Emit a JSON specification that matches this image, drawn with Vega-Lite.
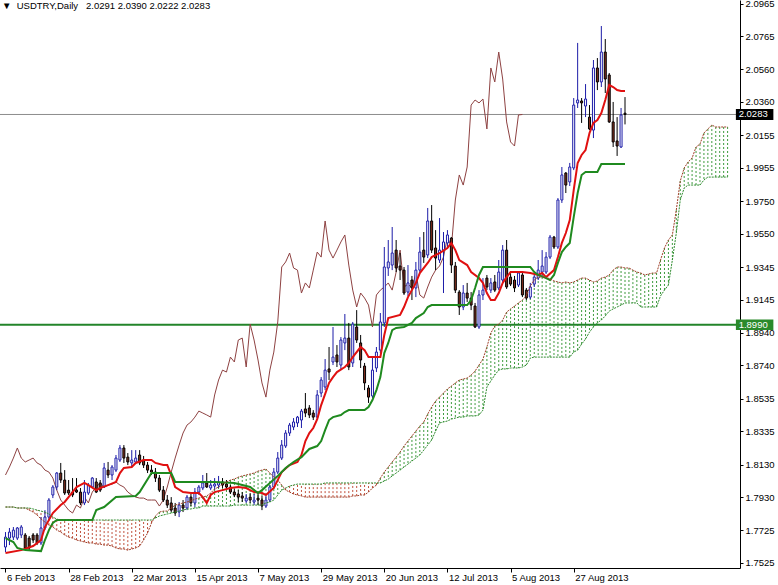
{
  "$schema": "https://vega.github.io/schema/vega-lite/v6.json",
  "width": 740,
  "height": 568,
  "autosize": "none",
  "padding": {"left": 0, "top": 0, "right": 38, "bottom": 17},
  "background": "white",
  "config": {
    "view": {"stroke": null},
    "axis": {"labelFont": "Liberation Sans", "labelFontSize": 9.5, "labelColor": "black", "domainColor": "black", "tickColor": "black", "grid": false, "labelOverlap": false, "labelFlush": false, "labelBound": false}
  },
  "title": {"text": "▼\u00a0\u00a0USDTRY,Daily\u00a0\u00a0\u00a02.0291 2.0390 2.0222 2.0283", "anchor": "start", "frame": "group", "orient": "top", "offset": -20, "baseline": "alphabetic", "dx": 2, "font": "Liberation Sans", "fontSize": 9.5, "fontWeight": "normal", "color": "black"},
  "datasets": {
    "candles": [
      {"i":0,"o":1.7623,"h":1.7715,"l":1.7592,"c":1.7684},
      {"i":1,"o":1.7678,"h":1.7740,"l":1.7635,"c":1.7715},
      {"i":2,"o":1.7684,"h":1.7746,"l":1.7666,"c":1.7727},
      {"i":3,"o":1.7678,"h":1.7746,"l":1.7666,"c":1.7740},
      {"i":4,"o":1.7697,"h":1.7758,"l":1.7678,"c":1.7746},
      {"i":5,"o":1.7697,"h":1.7709,"l":1.7604,"c":1.7617},
      {"i":6,"o":1.7678,"h":1.7691,"l":1.7604,"c":1.7617},
      {"i":7,"o":1.7697,"h":1.7709,"l":1.7648,"c":1.7666},
      {"i":8,"o":1.7697,"h":1.7709,"l":1.7635,"c":1.7648},
      {"i":9,"o":1.7648,"h":1.7807,"l":1.7635,"c":1.7740},
      {"i":10,"o":1.7740,"h":1.7850,"l":1.7727,"c":1.7807},
      {"i":11,"o":1.7807,"h":1.7924,"l":1.7789,"c":1.7912},
      {"i":12,"o":1.7943,"h":1.8004,"l":1.7924,"c":1.7992},
      {"i":13,"o":1.7992,"h":1.8084,"l":1.7973,"c":1.8078},
      {"i":14,"o":1.8078,"h":1.8140,"l":1.8017,"c":1.8035},
      {"i":15,"o":1.8035,"h":1.8096,"l":1.7943,"c":1.7955},
      {"i":16,"o":1.7973,"h":1.8035,"l":1.7943,"c":1.7955},
      {"i":17,"o":1.7961,"h":1.8047,"l":1.7930,"c":1.7943},
      {"i":18,"o":1.7973,"h":1.8047,"l":1.7955,"c":1.7961},
      {"i":19,"o":1.7961,"h":1.7986,"l":1.7881,"c":1.7894},
      {"i":20,"o":1.7894,"h":1.8035,"l":1.7881,"c":1.7961},
      {"i":21,"o":1.7955,"h":1.8017,"l":1.7943,"c":1.8004},
      {"i":22,"o":1.7992,"h":1.8053,"l":1.7986,"c":1.8047},
      {"i":23,"o":1.8023,"h":1.8047,"l":1.7955,"c":1.7961},
      {"i":24,"o":1.8017,"h":1.8035,"l":1.7961,"c":1.7973},
      {"i":25,"o":1.7992,"h":1.8140,"l":1.7986,"c":1.8109},
      {"i":26,"o":1.8096,"h":1.8146,"l":1.8047,"c":1.8066},
      {"i":27,"o":1.8066,"h":1.8127,"l":1.8035,"c":1.8115},
      {"i":28,"o":1.8096,"h":1.8189,"l":1.8084,"c":1.8170},
      {"i":29,"o":1.8158,"h":1.8250,"l":1.8146,"c":1.8232},
      {"i":30,"o":1.8232,"h":1.8250,"l":1.8140,"c":1.8170},
      {"i":31,"o":1.8176,"h":1.8201,"l":1.8127,"c":1.8146},
      {"i":32,"o":1.8140,"h":1.8219,"l":1.8115,"c":1.8158},
      {"i":33,"o":1.8146,"h":1.8219,"l":1.8140,"c":1.8170},
      {"i":34,"o":1.8189,"h":1.8219,"l":1.8127,"c":1.8140},
      {"i":35,"o":1.8158,"h":1.8183,"l":1.8109,"c":1.8127},
      {"i":36,"o":1.8127,"h":1.8146,"l":1.8078,"c":1.8096},
      {"i":37,"o":1.8096,"h":1.8127,"l":1.8066,"c":1.8084},
      {"i":38,"o":1.8084,"h":1.8109,"l":1.8023,"c":1.8047},
      {"i":39,"o":1.8047,"h":1.8066,"l":1.7961,"c":1.7973},
      {"i":40,"o":1.7973,"h":1.7998,"l":1.7900,"c":1.7912},
      {"i":41,"o":1.7912,"h":1.7943,"l":1.7863,"c":1.7881},
      {"i":42,"o":1.7894,"h":1.7930,"l":1.7838,"c":1.7850},
      {"i":43,"o":1.7863,"h":1.7894,"l":1.7814,"c":1.7832},
      {"i":44,"o":1.7838,"h":1.7900,"l":1.7807,"c":1.7881},
      {"i":45,"o":1.7881,"h":1.7912,"l":1.7838,"c":1.7863},
      {"i":46,"o":1.7863,"h":1.7943,"l":1.7850,"c":1.7930},
      {"i":47,"o":1.7930,"h":1.7949,"l":1.7875,"c":1.7894},
      {"i":48,"o":1.7894,"h":1.7986,"l":1.7869,"c":1.7961},
      {"i":49,"o":1.7961,"h":1.8004,"l":1.7943,"c":1.7992},
      {"i":50,"o":1.7986,"h":1.8066,"l":1.7973,"c":1.8017},
      {"i":51,"o":1.8017,"h":1.8078,"l":1.7986,"c":1.7992},
      {"i":52,"o":1.7986,"h":1.8035,"l":1.7973,"c":1.8004},
      {"i":53,"o":1.7998,"h":1.8047,"l":1.7973,"c":1.8010},
      {"i":54,"o":1.8004,"h":1.8060,"l":1.7986,"c":1.8023},
      {"i":55,"o":1.8023,"h":1.8047,"l":1.7986,"c":1.8004},
      {"i":56,"o":1.8010,"h":1.8035,"l":1.7973,"c":1.7992},
      {"i":57,"o":1.7992,"h":1.8004,"l":1.7949,"c":1.7961},
      {"i":58,"o":1.7961,"h":1.7980,"l":1.7930,"c":1.7943},
      {"i":59,"o":1.7949,"h":1.7973,"l":1.7900,"c":1.7930},
      {"i":60,"o":1.7937,"h":1.7961,"l":1.7900,"c":1.7924},
      {"i":61,"o":1.7906,"h":1.7949,"l":1.7894,"c":1.7924},
      {"i":62,"o":1.7930,"h":1.7955,"l":1.7894,"c":1.7912},
      {"i":63,"o":1.7900,"h":1.7949,"l":1.7881,"c":1.7912},
      {"i":64,"o":1.7924,"h":1.7961,"l":1.7881,"c":1.7912},
      {"i":65,"o":1.7912,"h":1.7937,"l":1.7850,"c":1.7875},
      {"i":66,"o":1.7875,"h":1.7937,"l":1.7863,"c":1.7912},
      {"i":67,"o":1.7912,"h":1.8004,"l":1.7900,"c":1.7992},
      {"i":68,"o":1.7992,"h":1.8109,"l":1.7980,"c":1.8084},
      {"i":69,"o":1.8084,"h":1.8207,"l":1.8072,"c":1.8170},
      {"i":70,"o":1.8170,"h":1.8281,"l":1.8158,"c":1.8250},
      {"i":71,"o":1.8244,"h":1.8342,"l":1.8232,"c":1.8324},
      {"i":72,"o":1.8324,"h":1.8386,"l":1.8306,"c":1.8373},
      {"i":73,"o":1.8361,"h":1.8416,"l":1.8342,"c":1.8392},
      {"i":74,"o":1.8386,"h":1.8429,"l":1.8361,"c":1.8422},
      {"i":75,"o":1.8404,"h":1.8472,"l":1.8355,"c":1.8459},
      {"i":76,"o":1.8472,"h":1.8570,"l":1.8422,"c":1.8447},
      {"i":77,"o":1.8478,"h":1.8496,"l":1.8416,"c":1.8435},
      {"i":78,"o":1.8447,"h":1.8465,"l":1.8404,"c":1.8422},
      {"i":79,"o":1.8422,"h":1.8588,"l":1.8404,"c":1.8558},
      {"i":80,"o":1.8570,"h":1.8668,"l":1.8545,"c":1.8650},
      {"i":81,"o":1.8607,"h":1.8779,"l":1.8588,"c":1.8711},
      {"i":82,"o":1.8718,"h":1.8853,"l":1.8650,"c":1.8699},
      {"i":83,"o":1.8761,"h":1.8976,"l":1.8742,"c":1.8791},
      {"i":84,"o":1.8804,"h":1.8865,"l":1.8730,"c":1.8761},
      {"i":85,"o":1.8742,"h":1.8914,"l":1.8711,"c":1.8896},
      {"i":86,"o":1.8878,"h":1.9056,"l":1.8834,"c":1.8908},
      {"i":87,"o":1.8908,"h":1.9001,"l":1.8711,"c":1.8730},
      {"i":88,"o":1.8755,"h":1.9007,"l":1.8730,"c":1.8994},
      {"i":89,"o":1.8976,"h":1.9080,"l":1.8878,"c":1.8896},
      {"i":90,"o":1.8878,"h":1.8927,"l":1.8724,"c":1.8773},
      {"i":91,"o":1.8736,"h":1.8755,"l":1.8588,"c":1.8632},
      {"i":92,"o":1.8601,"h":1.8619,"l":1.8509,"c":1.8545},
      {"i":93,"o":1.8552,"h":1.8791,"l":1.8539,"c":1.8711},
      {"i":94,"o":1.8724,"h":1.8853,"l":1.8699,"c":1.8822},
      {"i":95,"o":1.8834,"h":1.9062,"l":1.8816,"c":1.9007},
      {"i":96,"o":1.9001,"h":1.9468,"l":1.8976,"c":1.9345},
      {"i":97,"o":1.9339,"h":1.9511,"l":1.9290,"c":1.9376},
      {"i":98,"o":1.9357,"h":1.9591,"l":1.9326,"c":1.9431},
      {"i":99,"o":1.9449,"h":1.9511,"l":1.9314,"c":1.9339},
      {"i":100,"o":1.9351,"h":1.9431,"l":1.9265,"c":1.9326},
      {"i":101,"o":1.9326,"h":1.9345,"l":1.9173,"c":1.9185},
      {"i":102,"o":1.9191,"h":1.9357,"l":1.9167,"c":1.9247},
      {"i":103,"o":1.9265,"h":1.9290,"l":1.9142,"c":1.9216},
      {"i":104,"o":1.9216,"h":1.9376,"l":1.9160,"c":1.9326},
      {"i":105,"o":1.9326,"h":1.9529,"l":1.9308,"c":1.9437},
      {"i":106,"o":1.9449,"h":1.9560,"l":1.9370,"c":1.9406},
      {"i":107,"o":1.9419,"h":1.9708,"l":1.9400,"c":1.9628},
      {"i":108,"o":1.9628,"h":1.9726,"l":1.9431,"c":1.9449},
      {"i":109,"o":1.9462,"h":1.9572,"l":1.9326,"c":1.9400},
      {"i":110,"o":1.9388,"h":1.9646,"l":1.9370,"c":1.9449},
      {"i":111,"o":1.9449,"h":1.9560,"l":1.9185,"c":1.9499},
      {"i":112,"o":1.9493,"h":1.9572,"l":1.9468,"c":1.9542},
      {"i":113,"o":1.9523,"h":1.9529,"l":1.9308,"c":1.9357},
      {"i":114,"o":1.9351,"h":1.9376,"l":1.9185,"c":1.9203},
      {"i":115,"o":1.9191,"h":1.9203,"l":1.9050,"c":1.9099},
      {"i":116,"o":1.9099,"h":1.9234,"l":1.9080,"c":1.9185},
      {"i":117,"o":1.9185,"h":1.9247,"l":1.9130,"c":1.9154},
      {"i":118,"o":1.9154,"h":1.9191,"l":1.9080,"c":1.9111},
      {"i":119,"o":1.9105,"h":1.9124,"l":1.8970,"c":1.8976},
      {"i":120,"o":1.8976,"h":1.9203,"l":1.8964,"c":1.9173},
      {"i":121,"o":1.9173,"h":1.9277,"l":1.9142,"c":1.9203},
      {"i":122,"o":1.9277,"h":1.9296,"l":1.9203,"c":1.9222},
      {"i":123,"o":1.9203,"h":1.9277,"l":1.9185,"c":1.9247},
      {"i":124,"o":1.9253,"h":1.9296,"l":1.9191,"c":1.9203},
      {"i":125,"o":1.9216,"h":1.9388,"l":1.9203,"c":1.9314},
      {"i":126,"o":1.9265,"h":1.9480,"l":1.9247,"c":1.9449},
      {"i":127,"o":1.9449,"h":1.9511,"l":1.9210,"c":1.9222},
      {"i":128,"o":1.9283,"h":1.9308,"l":1.9228,"c":1.9240},
      {"i":129,"o":1.9265,"h":1.9290,"l":1.9191,"c":1.9216},
      {"i":130,"o":1.9234,"h":1.9314,"l":1.9222,"c":1.9308},
      {"i":131,"o":1.9296,"h":1.9308,"l":1.9160,"c":1.9173},
      {"i":132,"o":1.9203,"h":1.9216,"l":1.9142,"c":1.9154},
      {"i":133,"o":1.9160,"h":1.9247,"l":1.9148,"c":1.9222},
      {"i":134,"o":1.9240,"h":1.9296,"l":1.9222,"c":1.9283},
      {"i":135,"o":1.9277,"h":1.9388,"l":1.9265,"c":1.9326},
      {"i":136,"o":1.9314,"h":1.9449,"l":1.9283,"c":1.9351},
      {"i":137,"o":1.9314,"h":1.9437,"l":1.9302,"c":1.9406},
      {"i":138,"o":1.9406,"h":1.9542,"l":1.9394,"c":1.9529},
      {"i":139,"o":1.9529,"h":1.9536,"l":1.9456,"c":1.9468},
      {"i":140,"o":1.9468,"h":1.9769,"l":1.9456,"c":1.9757},
      {"i":141,"o":1.9757,"h":1.9960,"l":1.9739,"c":1.9911},
      {"i":142,"o":1.9923,"h":1.9929,"l":1.9800,"c":1.9849},
      {"i":143,"o":1.9868,"h":1.9985,"l":1.9843,"c":1.9960},
      {"i":144,"o":1.9954,"h":2.0384,"l":1.9941,"c":2.0341},
      {"i":145,"o":2.0354,"h":2.0723,"l":2.0323,"c":2.0372},
      {"i":146,"o":2.0366,"h":2.0384,"l":2.0231,"c":2.0354},
      {"i":147,"o":2.0335,"h":2.0470,"l":2.0267,"c":2.0378},
      {"i":148,"o":2.0267,"h":2.0341,"l":2.0187,"c":2.0194},
      {"i":149,"o":2.0187,"h":2.0618,"l":2.0138,"c":2.0569},
      {"i":150,"o":2.0569,"h":2.0630,"l":2.0433,"c":2.0483},
      {"i":151,"o":2.0483,"h":2.0827,"l":2.0452,"c":2.0667},
      {"i":152,"o":2.0667,"h":2.0747,"l":2.0415,"c":2.0501},
      {"i":153,"o":2.0526,"h":2.0538,"l":2.0231,"c":2.0237},
      {"i":154,"o":2.0237,"h":2.0360,"l":2.0083,"c":2.0114},
      {"i":155,"o":2.0120,"h":2.0267,"l":2.0028,"c":2.0089},
      {"i":156,"o":2.0083,"h":2.0323,"l":2.0077,"c":2.0280},
      {"i":157,"o":2.0291,"h":2.0390,"l":2.0222,"c":2.0283}
    ],
    "tenkan": [
      {"i":0,"v":1.7586},{"i":4,"v":1.7604},{"i":7,"v":1.7629},{"i":9,"v":1.7666},{"i":10,"v":1.7746},
      {"i":12,"v":1.7832},{"i":14,"v":1.7881},{"i":15,"v":1.7900},{"i":17,"v":1.7961},{"i":18,"v":1.7992},
      {"i":20,"v":1.8017},{"i":21,"v":1.8004},{"i":23,"v":1.7973},{"i":24,"v":1.7986},{"i":26,"v":1.8004},
      {"i":28,"v":1.8023},{"i":29,"v":1.8078},{"i":30,"v":1.8109},{"i":32,"v":1.8115},{"i":33,"v":1.8140},
      {"i":35,"v":1.8158},{"i":37,"v":1.8158},{"i":38,"v":1.8140},{"i":40,"v":1.8127},{"i":41,"v":1.8127},
      {"i":42,"v":1.8066},{"i":43,"v":1.7992},{"i":45,"v":1.7961},{"i":47,"v":1.7955},{"i":49,"v":1.7955},
      {"i":50,"v":1.7930},{"i":51,"v":1.7894},{"i":52,"v":1.7943},{"i":53,"v":1.7961},{"i":55,"v":1.7973},
      {"i":57,"v":1.7986},{"i":59,"v":1.7992},{"i":61,"v":1.7986},{"i":62,"v":1.7973},{"i":63,"v":1.7961},
      {"i":65,"v":1.7955},{"i":66,"v":1.7943},{"i":68,"v":1.7986},{"i":70,"v":1.8084},{"i":72,"v":1.8127},
      {"i":74,"v":1.8146},{"i":75,"v":1.8189},{"i":76,"v":1.8275},{"i":77,"v":1.8324},{"i":78,"v":1.8355},
      {"i":79,"v":1.8410},{"i":80,"v":1.8496},{"i":82,"v":1.8632},{"i":83,"v":1.8668},{"i":84,"v":1.8699},
      {"i":86,"v":1.8730},{"i":87,"v":1.8755},{"i":88,"v":1.8791},{"i":90,"v":1.8853},{"i":91,"v":1.8834},
      {"i":92,"v":1.8791},{"i":95,"v":1.8791},{"i":96,"v":1.8927},{"i":97,"v":1.9031},{"i":100,"v":1.9050},
      {"i":101,"v":1.9099},{"i":102,"v":1.9160},{"i":104,"v":1.9247},{"i":105,"v":1.9308},{"i":107,"v":1.9370},
      {"i":108,"v":1.9406},{"i":110,"v":1.9431},{"i":112,"v":1.9462},{"i":113,"v":1.9493},{"i":114,"v":1.9449},
      {"i":115,"v":1.9388},{"i":117,"v":1.9357},{"i":118,"v":1.9314},{"i":120,"v":1.9277},{"i":121,"v":1.9247},
      {"i":122,"v":1.9185},{"i":123,"v":1.9142},{"i":124,"v":1.9142},{"i":125,"v":1.9185},{"i":126,"v":1.9247},
      {"i":127,"v":1.9283},{"i":128,"v":1.9314},{"i":131,"v":1.9314},{"i":133,"v":1.9308},{"i":135,"v":1.9296},
      {"i":136,"v":1.9308},{"i":137,"v":1.9283},{"i":139,"v":1.9326},{"i":140,"v":1.9406},{"i":141,"v":1.9493},
      {"i":142,"v":1.9554},{"i":143,"v":1.9634},{"i":144,"v":1.9818},{"i":145,"v":1.9985},{"i":146,"v":2.0034},
      {"i":147,"v":2.0064},{"i":148,"v":2.0169},{"i":149,"v":2.0231},{"i":150,"v":2.0249},{"i":151,"v":2.0292},
      {"i":152,"v":2.0372},{"i":153,"v":2.0464},{"i":154,"v":2.0452},{"i":155,"v":2.0433},{"i":156,"v":2.0427},
      {"i":157,"v":2.0427}
    ],
    "kijun": [
      {"i":0,"v":1.7678},{"i":2,"v":1.7654},{"i":3,"v":1.7617},{"i":5,"v":1.7604},{"i":9,"v":1.7598},
      {"i":10,"v":1.7666},{"i":11,"v":1.7727},{"i":12,"v":1.7771},{"i":13,"v":1.7789},{"i":22,"v":1.7789},
      {"i":23,"v":1.7850},{"i":25,"v":1.7869},{"i":28,"v":1.7930},{"i":33,"v":1.7937},{"i":34,"v":1.7961},
      {"i":37,"v":1.8078},{"i":42,"v":1.8078},{"i":43,"v":1.8023},{"i":53,"v":1.8023},{"i":58,"v":1.8017},
      {"i":62,"v":1.7992},{"i":64,"v":1.7955},{"i":65,"v":1.7973},{"i":67,"v":1.8017},{"i":69,"v":1.8060},
      {"i":71,"v":1.8109},{"i":73,"v":1.8146},{"i":75,"v":1.8176},{"i":77,"v":1.8226},{"i":79,"v":1.8244},
      {"i":80,"v":1.8275},{"i":81,"v":1.8342},{"i":82,"v":1.8404},{"i":83,"v":1.8422},{"i":85,"v":1.8435},
      {"i":86,"v":1.8453},{"i":87,"v":1.8465},{"i":91,"v":1.8465},{"i":92,"v":1.8484},{"i":93,"v":1.8527},
      {"i":94,"v":1.8588},{"i":95,"v":1.8668},{"i":96,"v":1.8816},{"i":97,"v":1.8878},{"i":98,"v":1.8957},
      {"i":99,"v":1.8970},{"i":101,"v":1.8976},{"i":103,"v":1.9001},{"i":104,"v":1.9031},{"i":106,"v":1.9062},
      {"i":107,"v":1.9099},{"i":108,"v":1.9111},{"i":117,"v":1.9111},{"i":118,"v":1.9142},{"i":119,"v":1.9216},
      {"i":120,"v":1.9296},{"i":121,"v":1.9345},{"i":133,"v":1.9345},{"i":134,"v":1.9314},{"i":135,"v":1.9296},
      {"i":137,"v":1.9277},{"i":138,"v":1.9265},{"i":139,"v":1.9296},{"i":140,"v":1.9370},{"i":141,"v":1.9437},
      {"i":142,"v":1.9468},{"i":143,"v":1.9493},{"i":144,"v":1.9652},{"i":145,"v":1.9800},{"i":146,"v":1.9911},
      {"i":147,"v":1.9929},{"i":150,"v":1.9929},{"i":151,"v":1.9978},{"i":157,"v":1.9978}
    ],
    "chikou": [
      {"i":0,"v":1.8066},{"i":1,"v":1.8115},{"i":2,"v":1.8170},{"i":3,"v":1.8232},{"i":4,"v":1.8170},
      {"i":5,"v":1.8146},{"i":6,"v":1.8158},{"i":7,"v":1.8170},{"i":8,"v":1.8140},{"i":9,"v":1.8127},
      {"i":10,"v":1.8096},{"i":11,"v":1.8084},{"i":12,"v":1.8047},{"i":13,"v":1.7973},{"i":14,"v":1.7912},
      {"i":15,"v":1.7881},{"i":16,"v":1.7850},{"i":17,"v":1.7832},{"i":18,"v":1.7881},{"i":19,"v":1.7863},
      {"i":20,"v":1.7930},{"i":21,"v":1.7894},{"i":22,"v":1.7961},{"i":23,"v":1.7992},{"i":24,"v":1.8017},
      {"i":25,"v":1.7992},{"i":26,"v":1.8004},{"i":27,"v":1.8010},{"i":28,"v":1.8023},{"i":29,"v":1.8004},
      {"i":30,"v":1.7992},{"i":31,"v":1.7961},{"i":32,"v":1.7943},{"i":33,"v":1.7930},{"i":34,"v":1.7924},
      {"i":35,"v":1.7924},{"i":36,"v":1.7912},{"i":37,"v":1.7912},{"i":38,"v":1.7912},{"i":39,"v":1.7875},
      {"i":40,"v":1.7912},{"i":41,"v":1.7992},{"i":42,"v":1.8084},{"i":43,"v":1.8170},{"i":44,"v":1.8250},
      {"i":45,"v":1.8324},{"i":46,"v":1.8373},{"i":47,"v":1.8392},{"i":48,"v":1.8422},{"i":49,"v":1.8459},
      {"i":50,"v":1.8447},{"i":51,"v":1.8435},{"i":52,"v":1.8422},{"i":53,"v":1.8558},{"i":54,"v":1.8650},
      {"i":55,"v":1.8711},{"i":56,"v":1.8699},{"i":57,"v":1.8791},{"i":58,"v":1.8761},{"i":59,"v":1.8896},
      {"i":60,"v":1.8908},{"i":61,"v":1.8730},{"i":62,"v":1.8994},{"i":63,"v":1.8896},{"i":64,"v":1.8773},
      {"i":65,"v":1.8632},{"i":66,"v":1.8545},{"i":67,"v":1.8711},{"i":68,"v":1.8822},{"i":69,"v":1.9007},
      {"i":70,"v":1.9345},{"i":71,"v":1.9376},{"i":72,"v":1.9431},{"i":73,"v":1.9339},{"i":74,"v":1.9326},
      {"i":75,"v":1.9185},{"i":76,"v":1.9247},{"i":77,"v":1.9216},{"i":78,"v":1.9326},{"i":79,"v":1.9437},
      {"i":80,"v":1.9406},{"i":81,"v":1.9628},{"i":82,"v":1.9449},{"i":83,"v":1.9400},{"i":84,"v":1.9449},
      {"i":85,"v":1.9499},{"i":86,"v":1.9542},{"i":87,"v":1.9357},{"i":88,"v":1.9203},{"i":89,"v":1.9099},
      {"i":90,"v":1.9185},{"i":91,"v":1.9154},{"i":92,"v":1.9111},{"i":93,"v":1.8976},{"i":94,"v":1.9173},
      {"i":95,"v":1.9203},{"i":96,"v":1.9222},{"i":97,"v":1.9247},{"i":98,"v":1.9203},{"i":99,"v":1.9314},
      {"i":100,"v":1.9449},{"i":101,"v":1.9222},{"i":102,"v":1.9240},{"i":103,"v":1.9216},{"i":104,"v":1.9308},
      {"i":105,"v":1.9173},{"i":106,"v":1.9154},{"i":107,"v":1.9222},{"i":108,"v":1.9283},{"i":109,"v":1.9326},
      {"i":110,"v":1.9351},{"i":111,"v":1.9406},{"i":112,"v":1.9529},{"i":113,"v":1.9468},{"i":114,"v":1.9757},
      {"i":115,"v":1.9911},{"i":116,"v":1.9849},{"i":117,"v":1.9960},{"i":118,"v":2.0341},{"i":119,"v":2.0372},
      {"i":120,"v":2.0354},{"i":121,"v":2.0378},{"i":122,"v":2.0194},{"i":123,"v":2.0569},{"i":124,"v":2.0483},
      {"i":125,"v":2.0667},{"i":126,"v":2.0501},{"i":127,"v":2.0237},{"i":128,"v":2.0114},{"i":129,"v":2.0089},
      {"i":130,"v":2.0280},{"i":131,"v":2.0283}
    ],
    "cloud": [
      {"i":0,"a":1.7869,"b":1.7869},{"i":1,"a":1.7869,"b":1.7869},{"i":2,"a":1.7869,"b":1.7869},{"i":3,"a":1.7863,"b":1.7863},
      {"i":4,"a":1.7863,"b":1.7863},{"i":5,"a":1.7863,"b":1.7863},{"i":6,"a":1.7850,"b":1.7863},{"i":7,"a":1.7838,"b":1.7857},
      {"i":8,"a":1.7820,"b":1.7850},{"i":9,"a":1.7795,"b":1.7844},{"i":10,"a":1.7777,"b":1.7838},{"i":11,"a":1.7758,"b":1.7826},
      {"i":12,"a":1.7746,"b":1.7807},{"i":13,"a":1.7727,"b":1.7795},{"i":14,"a":1.7715,"b":1.7789},{"i":15,"a":1.7697,"b":1.7789},
      {"i":16,"a":1.7684,"b":1.7789},{"i":17,"a":1.7678,"b":1.7789},{"i":18,"a":1.7666,"b":1.7789},{"i":19,"a":1.7660,"b":1.7789},
      {"i":20,"a":1.7654,"b":1.7789},{"i":21,"a":1.7648,"b":1.7789},{"i":22,"a":1.7648,"b":1.7789},{"i":23,"a":1.7641,"b":1.7789},
      {"i":24,"a":1.7641,"b":1.7789},{"i":25,"a":1.7635,"b":1.7789},{"i":26,"a":1.7635,"b":1.7789},{"i":27,"a":1.7629,"b":1.7789},
      {"i":28,"a":1.7617,"b":1.7789},{"i":29,"a":1.7611,"b":1.7789},{"i":30,"a":1.7611,"b":1.7789},{"i":31,"a":1.7604,"b":1.7789},
      {"i":32,"a":1.7611,"b":1.7789},{"i":33,"a":1.7617,"b":1.7789},{"i":34,"a":1.7629,"b":1.7789},{"i":35,"a":1.7666,"b":1.7789},
      {"i":36,"a":1.7709,"b":1.7789},{"i":37,"a":1.7771,"b":1.7789},{"i":38,"a":1.7814,"b":1.7801},{"i":39,"a":1.7838,"b":1.7814},
      {"i":40,"a":1.7844,"b":1.7820},{"i":41,"a":1.7844,"b":1.7826},{"i":42,"a":1.7863,"b":1.7832},{"i":43,"a":1.7881,"b":1.7838},
      {"i":44,"a":1.7887,"b":1.7844},{"i":45,"a":1.7894,"b":1.7850},{"i":46,"a":1.7900,"b":1.7857},{"i":47,"a":1.7906,"b":1.7857},
      {"i":48,"a":1.7918,"b":1.7863},{"i":49,"a":1.7924,"b":1.7863},{"i":50,"a":1.7930,"b":1.7875},{"i":51,"a":1.7937,"b":1.7875},
      {"i":52,"a":1.7955,"b":1.7875},{"i":53,"a":1.7980,"b":1.7875},{"i":54,"a":1.7992,"b":1.7875},{"i":55,"a":1.8010,"b":1.7875},
      {"i":56,"a":1.8023,"b":1.7875},{"i":57,"a":1.8035,"b":1.7875},{"i":58,"a":1.8041,"b":1.7881},{"i":59,"a":1.8053,"b":1.7881},
      {"i":60,"a":1.8060,"b":1.7881},{"i":61,"a":1.8066,"b":1.7881},{"i":62,"a":1.8072,"b":1.7881},{"i":63,"a":1.8078,"b":1.7881},
      {"i":64,"a":1.8090,"b":1.7881},{"i":65,"a":1.8096,"b":1.7881},{"i":66,"a":1.8103,"b":1.7894},{"i":67,"a":1.8078,"b":1.7900},
      {"i":68,"a":1.8053,"b":1.7912},{"i":69,"a":1.8035,"b":1.7943},{"i":70,"a":1.8004,"b":1.7973},{"i":71,"a":1.7973,"b":1.7986},
      {"i":72,"a":1.7961,"b":1.7998},{"i":73,"a":1.7949,"b":1.8004},{"i":74,"a":1.7943,"b":1.8010},{"i":75,"a":1.7937,"b":1.8010},
      {"i":76,"a":1.7930,"b":1.8010},{"i":77,"a":1.7930,"b":1.8010},{"i":78,"a":1.7930,"b":1.8010},{"i":79,"a":1.7930,"b":1.8010},
      {"i":80,"a":1.7930,"b":1.8010},{"i":81,"a":1.7930,"b":1.8017},{"i":82,"a":1.7930,"b":1.8017},{"i":83,"a":1.7930,"b":1.8017},
      {"i":84,"a":1.7930,"b":1.8017},{"i":85,"a":1.7930,"b":1.8017},{"i":86,"a":1.7930,"b":1.8017},{"i":87,"a":1.7930,"b":1.8017},
      {"i":88,"a":1.7937,"b":1.8017},{"i":89,"a":1.7937,"b":1.8017},{"i":90,"a":1.7943,"b":1.8017},{"i":91,"a":1.7943,"b":1.8017},
      {"i":92,"a":1.7961,"b":1.8017},{"i":93,"a":1.7986,"b":1.8017},{"i":94,"a":1.8004,"b":1.8017},{"i":95,"a":1.8047,"b":1.8017},
      {"i":96,"a":1.8084,"b":1.8029},{"i":97,"a":1.8115,"b":1.8041},{"i":98,"a":1.8146,"b":1.8060},{"i":99,"a":1.8176,"b":1.8078},
      {"i":100,"a":1.8207,"b":1.8096},{"i":101,"a":1.8244,"b":1.8115},{"i":102,"a":1.8275,"b":1.8133},{"i":103,"a":1.8306,"b":1.8152},
      {"i":104,"a":1.8336,"b":1.8170},{"i":105,"a":1.8367,"b":1.8189},{"i":106,"a":1.8392,"b":1.8219},{"i":107,"a":1.8441,"b":1.8250},
      {"i":108,"a":1.8484,"b":1.8281},{"i":109,"a":1.8521,"b":1.8336},{"i":110,"a":1.8545,"b":1.8386},{"i":111,"a":1.8570,"b":1.8392},
      {"i":112,"a":1.8595,"b":1.8398},{"i":113,"a":1.8613,"b":1.8410},{"i":114,"a":1.8632,"b":1.8416},{"i":115,"a":1.8650,"b":1.8422},
      {"i":116,"a":1.8656,"b":1.8422},{"i":117,"a":1.8662,"b":1.8429},{"i":118,"a":1.8681,"b":1.8429},{"i":119,"a":1.8705,"b":1.8429},
      {"i":120,"a":1.8742,"b":1.8435},{"i":121,"a":1.8779,"b":1.8465},{"i":122,"a":1.8853,"b":1.8607},{"i":123,"a":1.8939,"b":1.8644},
      {"i":124,"a":1.8982,"b":1.8681},{"i":125,"a":1.8994,"b":1.8711},{"i":126,"a":1.9019,"b":1.8718},{"i":127,"a":1.9068,"b":1.8718},
      {"i":128,"a":1.9087,"b":1.8724},{"i":129,"a":1.9105,"b":1.8724},{"i":130,"a":1.9124,"b":1.8724},{"i":131,"a":1.9142,"b":1.8730},
      {"i":132,"a":1.9167,"b":1.8742},{"i":133,"a":1.9228,"b":1.8785},{"i":134,"a":1.9265,"b":1.8791},{"i":135,"a":1.9283,"b":1.8791},
      {"i":136,"a":1.9283,"b":1.8791},{"i":137,"a":1.9283,"b":1.8791},{"i":138,"a":1.9271,"b":1.8791},{"i":139,"a":1.9259,"b":1.8791},
      {"i":140,"a":1.9253,"b":1.8791},{"i":141,"a":1.9247,"b":1.8791},{"i":142,"a":1.9253,"b":1.8791},{"i":143,"a":1.9247,"b":1.8791},
      {"i":144,"a":1.9253,"b":1.8822},{"i":145,"a":1.9265,"b":1.8834},{"i":146,"a":1.9277,"b":1.8871},{"i":147,"a":1.9277,"b":1.8902},
      {"i":148,"a":1.9265,"b":1.8945},{"i":149,"a":1.9253,"b":1.8976},{"i":150,"a":1.9259,"b":1.9001},{"i":151,"a":1.9277,"b":1.9019},
      {"i":152,"a":1.9283,"b":1.9044},{"i":153,"a":1.9296,"b":1.9074},{"i":154,"a":1.9326,"b":1.9087},{"i":155,"a":1.9345,"b":1.9099},
      {"i":156,"a":1.9345,"b":1.9111},{"i":157,"a":1.9339,"b":1.9124},{"i":158,"a":1.9339,"b":1.9124},{"i":159,"a":1.9326,"b":1.9124},
      {"i":160,"a":1.9314,"b":1.9124},{"i":161,"a":1.9308,"b":1.9099},{"i":162,"a":1.9296,"b":1.9099},{"i":163,"a":1.9302,"b":1.9099},
      {"i":164,"a":1.9308,"b":1.9099},{"i":165,"a":1.9308,"b":1.9099},{"i":166,"a":1.9388,"b":1.9167},{"i":167,"a":1.9462,"b":1.9203},
      {"i":168,"a":1.9511,"b":1.9234},{"i":169,"a":1.9542,"b":1.9388},{"i":170,"a":1.9695,"b":1.9554},{"i":171,"a":1.9874,"b":1.9757},
      {"i":172,"a":1.9954,"b":1.9831},{"i":173,"a":1.9991,"b":1.9849},{"i":174,"a":2.0015,"b":1.9849},{"i":175,"a":2.0083,"b":1.9849},
      {"i":176,"a":2.0101,"b":1.9849},{"i":177,"a":2.0169,"b":1.9880},{"i":178,"a":2.0194,"b":1.9898},{"i":179,"a":2.0218,"b":1.9898},
      {"i":180,"a":2.0206,"b":1.9898},{"i":181,"a":2.0206,"b":1.9898},{"i":182,"a":2.0206,"b":1.9898},{"i":183,"a":2.0206,"b":1.9898}
    ]
  },
  "layer": [
    {
      "data": {"name": "cloud"},
      "mark": {"type": "rule", "strokeWidth": 1, "strokeDash": [2, 2]},
      "encoding": {
        "x": {"field": "i", "type": "quantitative", "title": null,
          "scale": {"domain": [-0.125, 184.875], "nice": false, "zero": false},
          "axis": {"orient": "bottom", "values": [0, 16, 32, 48, 64, 80, 96, 112, 128, 144], "tickCount": 40,
            "labelExpr": "datum.value == 0 ? '6 Feb 2013' : datum.value == 16 ? '28 Feb 2013' : datum.value == 32 ? '22 Mar 2013' : datum.value == 48 ? '15 Apr 2013' : datum.value == 64 ? '7 May 2013' : datum.value == 80 ? '29 May 2013' : datum.value == 96 ? '20 Jun 2013' : datum.value == 112 ? '12 Jul 2013' : datum.value == 128 ? '5 Aug 2013' : '27 Aug 2013'",
            "labelAlign": "left", "labelBaseline": "top", "labelPadding": 0, "labelOffset": 1, "tickSize": 4, "labelOverlap": false}},
        "y": {"field": "a", "type": "quantitative", "title": null,
          "scale": {"domain": [1.7494, 2.0987], "nice": false, "zero": false},
          "axis": {"orient": "right", "values": [2.0965, 2.0765, 2.0560, 2.0360, 2.0155, 1.9955, 1.9750, 1.9550, 1.9345, 1.9145, 1.8940, 1.8740, 1.8535, 1.8335, 1.8130, 1.7930, 1.7725, 1.7525], "tickCount": 40,
            "format": ".4f", "labelAlign": "left", "labelBaseline": "middle", "tickSize": 3, "labelPadding": 2, "labelOverlap": false, "labelSeparation": 0}},
        "y2": {"field": "b"},
        "color": {"condition": {"test": "datum.a >= datum.b", "value": "#3c9a3c"}, "value": "#c0503c"}
      }
    },
    {
      "data": {"values": [{}]},
      "mark": {"type": "rule", "color": "#8c8c8c", "strokeWidth": 1},
      "encoding": {"y": {"datum": 2.0283}}
    },
    {
      "data": {"values": [{}]},
      "mark": {"type": "rule", "color": "#23842a", "strokeWidth": 2},
      "encoding": {"y": {"datum": 1.8990}}
    },
    {
      "data": {"name": "chikou"},
      "mark": {"type": "line", "color": "#8e4242", "strokeWidth": 1},
      "encoding": {"x": {"field": "i", "type": "quantitative", "title": null}, "y": {"field": "v", "type": "quantitative", "title": null}}
    },
    {
      "data": {"name": "candles"},
      "mark": {"type": "rule", "strokeWidth": 1},
      "encoding": {
        "x": {"field": "i", "type": "quantitative", "title": null},
        "y": {"field": "l", "type": "quantitative", "title": null},
        "y2": {"field": "h"},
        "color": {"condition": {"test": "datum.c >= datum.o", "value": "#1c1ca8"}, "value": "#000000"}
      }
    },
    {
      "data": {"name": "candles"},
      "transform": [{"filter": "datum.c >= datum.o"}],
      "mark": {"type": "bar", "size": 2, "fill": "white", "stroke": "#1c1ca8", "strokeWidth": 1},
      "encoding": {"x": {"field": "i", "type": "quantitative", "title": null}, "y": {"field": "o", "type": "quantitative", "title": null}, "y2": {"field": "c"}}
    },
    {
      "data": {"name": "candles"},
      "transform": [{"filter": "datum.c < datum.o"}],
      "mark": {"type": "bar", "size": 2, "fill": "#84301f", "stroke": "#000000", "strokeWidth": 1},
      "encoding": {"x": {"field": "i", "type": "quantitative", "title": null}, "y": {"field": "o", "type": "quantitative", "title": null}, "y2": {"field": "c"}}
    },
    {
      "data": {"name": "tenkan"},
      "mark": {"type": "line", "color": "#e01010", "strokeWidth": 2},
      "encoding": {"x": {"field": "i", "type": "quantitative", "title": null}, "y": {"field": "v", "type": "quantitative", "title": null}}
    },
    {
      "data": {"name": "kijun"},
      "mark": {"type": "line", "color": "#1f8a1f", "strokeWidth": 2},
      "encoding": {"x": {"field": "i", "type": "quantitative", "title": null}, "y": {"field": "v", "type": "quantitative", "title": null}}
    },
    {
      "data": {"name": "cloud"},
      "mark": {"type": "line", "color": "#a0402a", "strokeWidth": 1, "strokeDash": [2, 1]},
      "encoding": {"x": {"field": "i", "type": "quantitative", "title": null}, "y": {"field": "a", "type": "quantitative", "title": null}}
    },
    {
      "data": {"name": "cloud"},
      "mark": {"type": "line", "color": "#2e8b2e", "strokeWidth": 1, "strokeDash": [2, 1]},
      "encoding": {"x": {"field": "i", "type": "quantitative", "title": null}, "y": {"field": "b", "type": "quantitative", "title": null}}
    },
    {
      "data": {"values": [{}]},
      "mark": {"type": "rect", "color": "#000000"},
      "encoding": {"x": {"datum": 185.1}, "x2": {"datum": 194.6}, "y": {"datum": 2.0317}, "y2": {"datum": 2.0249}}
    },
    {
      "data": {"values": [{}]},
      "mark": {"type": "text", "text": "2.0283", "align": "left", "baseline": "middle", "color": "white", "font": "Liberation Sans", "fontSize": 9.5},
      "encoding": {"x": {"datum": 185.8}, "y": {"datum": 2.0283}}
    },
    {
      "data": {"values": [{}]},
      "mark": {"type": "rect", "color": "#2a8a2a"},
      "encoding": {"x": {"datum": 185.1}, "x2": {"datum": 194.6}, "y": {"datum": 1.9022}, "y2": {"datum": 1.8958}}
    },
    {
      "data": {"values": [{}]},
      "mark": {"type": "text", "text": "1.8990", "align": "left", "baseline": "middle", "color": "white", "font": "Liberation Sans", "fontSize": 9.5},
      "encoding": {"x": {"datum": 185.8}, "y": {"datum": 1.8990}}
    }
  ]
}
